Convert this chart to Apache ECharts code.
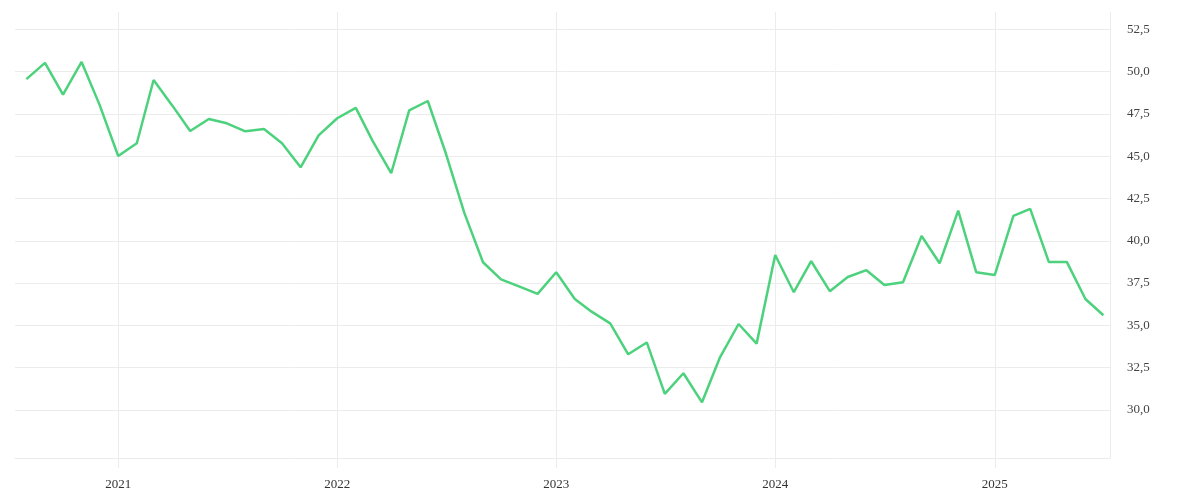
<!DOCTYPE html>
<html>
<head>
<meta charset="utf-8">
<script src="https://cdn.jsdelivr.net/npm/echarts@6/dist/echarts.min.js"></script>
<style>
  html, body { margin: 0; padding: 0; background: #fff; }
  #main { width: 1200px; height: 500px; }
</style>
</head>
<body>
<div id="main"></div>
<script>
var months = [
  '2020-08-01', '2020-09-01', '2020-10-01', '2020-11-01', '2020-12-01',
  '2021-01-01', '2021-02-01', '2021-03-01', '2021-04-01', '2021-05-01', '2021-06-01',
  '2021-07-01', '2021-08-01', '2021-09-01', '2021-10-01', '2021-11-01', '2021-12-01',
  '2022-01-01', '2022-02-01', '2022-03-01', '2022-04-01', '2022-05-01', '2022-06-01',
  '2022-07-01', '2022-08-01', '2022-09-01', '2022-10-01', '2022-11-01', '2022-12-01',
  '2023-01-01', '2023-02-01', '2023-03-01', '2023-04-01', '2023-05-01', '2023-06-01',
  '2023-07-01', '2023-08-01', '2023-09-01', '2023-10-01', '2023-11-01', '2023-12-01',
  '2024-01-01', '2024-02-01', '2024-03-01', '2024-04-01', '2024-05-01', '2024-06-01',
  '2024-07-01', '2024-08-01', '2024-09-01', '2024-10-01', '2024-11-01', '2024-12-01',
  '2025-01-01', '2025-02-01', '2025-03-01', '2025-04-01', '2025-05-01', '2025-06-01',
  '2025-07-01'
];
var values = [
  49.55, 50.51, 48.64, 50.57, 48.03,
  45.01, 45.76, 49.5, 48.0, 46.49, 47.2,
  46.94, 46.47, 46.61, 45.76, 44.34, 46.23,
  47.24, 47.85, 45.9, 43.99, 47.71, 48.26,
  45.17, 41.63, 38.73, 37.72, 37.29, 36.86,
  38.14, 36.56, 35.81, 35.12, 33.29, 33.99,
  30.95, 32.17, 30.45, 33.11, 35.08, 33.92,
  39.16, 36.96, 38.79, 37.02, 37.86, 38.26,
  37.39, 37.55, 40.28, 38.67, 41.78, 38.14,
  37.98, 41.47, 41.88, 38.75, 38.75, 36.56,
  35.6
];
var yTicks = [30, 32.5, 35, 37.5, 40, 42.5, 45, 47.5, 50, 52.5];
var yearTicks = ['2021-01-01', '2022-01-01', '2023-01-01', '2024-01-01', '2025-01-01'];

function ts(d) { return +new Date(d + 'T00:00:00Z'); }

var chart = echarts.init(document.getElementById('main'), null, { renderer: 'canvas' });

var data = months.map(function (m, i) { return [ts(m), values[i]]; });
var yearValues = yearTicks.map(ts);

var option = {
  animation: false,
  grid: { left: 15, right: 90, top: 12, bottom: 42 },
  xAxis: {
    type: 'value',
    min: ts('2020-07-13'),
    max: ts('2025-07-12'),
    axisLine: { show: true, lineStyle: { color: '#ececec', width: 1 } },
    axisTick: { show: true, customValues: yearValues, length: 10, lineStyle: { color: '#ececec' } },
    splitLine: { show: true, lineStyle: { color: '#ececec', width: 1 } },
    axisLabel: {
      customValues: yearValues,
      color: '#333',
      fontFamily: 'Liberation Serif',
      fontSize: 13,
      margin: 20,
      formatter: function (v) { return String(new Date(v).getUTCFullYear()); }
    }
  },
  yAxis: {
    type: 'value',
    position: 'right',
    min: 27.16,
    max: 53.52,
    axisLine: { show: true, lineStyle: { color: '#ececec', width: 1 } },
    axisTick: { show: false, customValues: yTicks },
    splitLine: { show: true, lineStyle: { color: '#ececec', width: 1 } },
    axisLabel: {
      customValues: yTicks,
      color: '#444',
      fontFamily: 'Liberation Serif',
      fontSize: 13,
      margin: 17,
      padding: [4, 0, 0, 0],
      formatter: function (v) { return v.toFixed(1).replace('.', ','); }
    }
  },
  series: [{
    type: 'line',
    data: data,
    showSymbol: false,
    symbol: 'none',
    lineStyle: { color: '#4cd27c', width: 2.5 },
    itemStyle: { color: '#4cd27c' }
  }]
};
chart.setOption(option);
</script>
</body>
</html>
